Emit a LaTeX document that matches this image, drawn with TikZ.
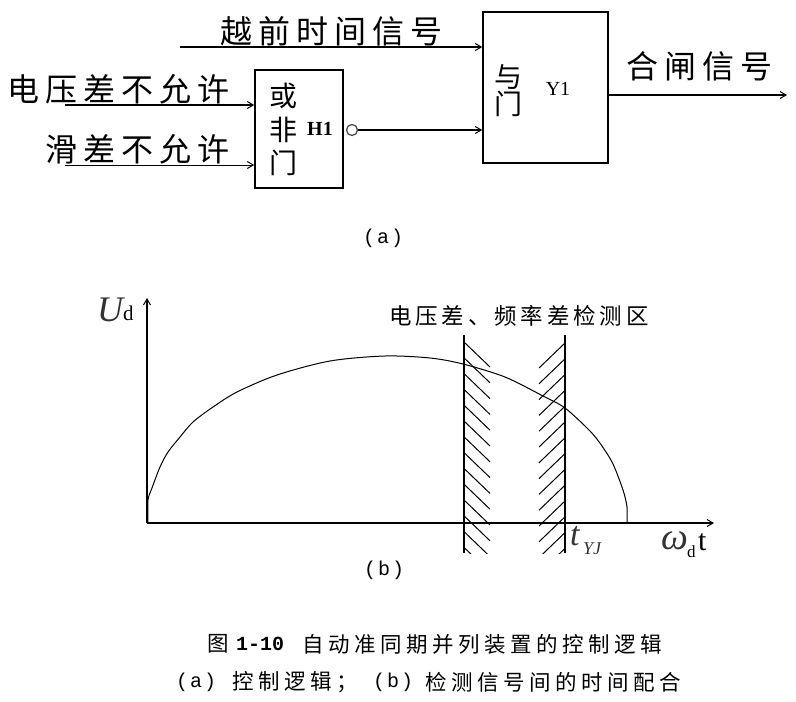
\documentclass[tikz,border=0pt]{standalone}
\usepackage{fontspec}
\usetikzlibrary{arrows.meta}
\setmainfont{Liberation Serif}
\newfontfamily\cjk{Noto Sans CJK SC}
\newfontfamily\cjkbig[LetterSpace=19]{Noto Sans CJK SC}
\newfontfamily\cjkmid[LetterSpace=17]{Noto Sans CJK SC}
\newfontfamily\cjkcap[LetterSpace=21]{Noto Sans CJK SC}
\newfontfamily\capmono[LetterSpace=10]{Liberation Mono}
\newfontfamily\capnum{Liberation Mono}
\tikzset{
  x=1pt,y=-1pt,
  gatebox/.style={draw=black,line width=1.5pt,fill=none,inner sep=0,minimum width=#1},
  wire/.style={line width=1.2pt,-{Straight Barb[length=6pt,width=7pt,line width=1pt]}},
  bigtxt/.style={inner sep=0,anchor=west,font=\cjkbig\fontsize{32}{32}\selectfont},
  midtxt/.style={inner sep=0,anchor=west,font=\cjkmid\fontsize{22.5}{23}\selectfont},
  captxt/.style={inner sep=0,anchor=west,font=\cjkcap\fontsize{21.5}{22}\selectfont},
  monotxt/.style={inner sep=0,anchor=west,font=\capmono\fontsize{20}{20}\selectfont},
  numtxt/.style={inner sep=0,anchor=west,font=\capnum\bfseries\fontsize{20}{20}\selectfont},
  gatetxt/.style={inner sep=0,font=\cjk\fontsize{28}{28}\selectfont},
  curveline/.style={line width=1pt},
  hatchline/.style={line width=1pt},
  zoneline/.style={line width=1.4pt},
  axisline/.style={line width=1.5pt,-{Straight Barb[length=6pt,width=7pt,line width=1pt]}},
}
\begin{document}
\begin{tikzpicture}
\useasboundingbox (0,0) rectangle (796,702);
% logic gates
\node[gatebox=88pt,minimum height=118pt] (H1) at (299,129) {};
\node[gatebox=125pt,minimum height=151pt] (Y1) at (545.5,87.5) {};
\node[draw=black!70,line width=1.3pt,circle,minimum size=11pt,inner sep=0] (inv) at (352,130) {};
\coordinate (yqin) at (180,47);
\coordinate (uin) at (65,105);
\coordinate (sin) at (65,165);
\coordinate (hout) at (787,95);
\draw[wire] (yqin) -- (yqin -| Y1.west);
\draw[wire] (uin) -- (uin -| H1.west);
\draw[wire,line width=.9pt] (sin) -- (sin -| H1.west);
\draw[wire] (inv.east) -- (inv.east -| Y1.west);
\draw[wire] (hout -| Y1.east) -- (hout);
% gate labels
\node[bigtxt] (t1) at (220,31) {越前时间信号};
\node[bigtxt] (t2) at (7,89) {电压差不允许};
\node[bigtxt] (t3) at (45,149) {滑差不允许};
\node[bigtxt] (t4) at (626,66) {合闸信号};
\node[gatetxt] (h1a) at (283,96) {或};
\node[gatetxt] (h1b) at (283,130) {非};
\node[gatetxt] (h1c) at (283,163) {门};
\node[inner sep=0,font=\bfseries\fontsize{20}{20}\selectfont] (h1d) at (320,129) {H1};
\node[gatetxt] (y1a) at (508,77) {与};
\node[gatetxt] (y1b) at (508,104) {门};
\node[inner sep=0,font=\fontsize{20}{20}\selectfont] (y1c) at (558,89) {Y1};
\node[monotxt] (capa) at (363,238) {(a)};
% chart
\coordinate (O) at (147,523);
\coordinate (ytop) at (147,298);
\coordinate (xend) at (714,523);
\draw[axisline] (O) -- (ytop);
\draw[axisline] (O) -- (xend);
\draw[curveline] plot[smooth,tension=.5] coordinates {(148,523) (148,500) (152,488) (160,467) (168,452) (180,437) (193,422) (213,407) (237,392) (277,375) (330,361) (385,356) (430,358) (463,364) (505,377) (543,396) (565,408) (590,431) (602,446) (613,464) (623,490) (627,507) (627,523)};
\draw[zoneline] (464,335) -- (464,553);
\draw[zoneline] (565,335) -- (565,553);
\begin{scope}
\clip (464,335) rectangle (565,553);
\foreach \k in {0,...,13} {
  \draw[hatchline] (464,342+15.8*\k) -- ++(26,25);
  \draw[hatchline] (565,343+15.8*\k) -- ++(-26,25);
}
\end{scope}
\node[midtxt] (zone) at (389,316) {电压差、频率差检测区};
\node[inner sep=0,anchor=west,font=\itshape\fontsize{36}{36}\selectfont,text=black!80] (Ud) at (97,310) {U};
\node[inner sep=0,anchor=west,font=\fontsize{21}{21}\selectfont] (Ud2) at (123,313) {d};
\node[inner sep=0,anchor=west,font=\itshape\fontsize{34}{34}\selectfont,text=black!80] (ty) at (570,536) {t};
\node[inner sep=0,anchor=west,font=\itshape\fontsize{18}{18}\selectfont,text=black!80] (ty2) at (583,549) {YJ};
\node[inner sep=0,anchor=west,font=\itshape\fontsize{38}{38}\selectfont,text=black!80] (wt) at (661,541) {ω};
\node[inner sep=0,anchor=west,font=\fontsize{17}{17}\selectfont] (wt2) at (687,552) {d};
\node[inner sep=0,anchor=west,font=\fontsize{30}{30}\selectfont] (wt3) at (698,542) {t};
\node[monotxt] (capb) at (364,570) {(b)};
% caption
\node[captxt] (c1) at (207,644) {图};
\node[numtxt] (c1b) at (236,644) {1-10};
\node[captxt] (c1c) at (302,644) {自动准同期并列装置的控制逻辑};
\node[monotxt] (c2) at (176,682) {(a)};
\node[captxt] (c2b) at (232,682) {控制逻辑；};
\node[monotxt] (c2c) at (373,682) {(b)};
\node[captxt] (c2d) at (425,682) {检测信号间的时间配合};
\end{tikzpicture}
\end{document}
